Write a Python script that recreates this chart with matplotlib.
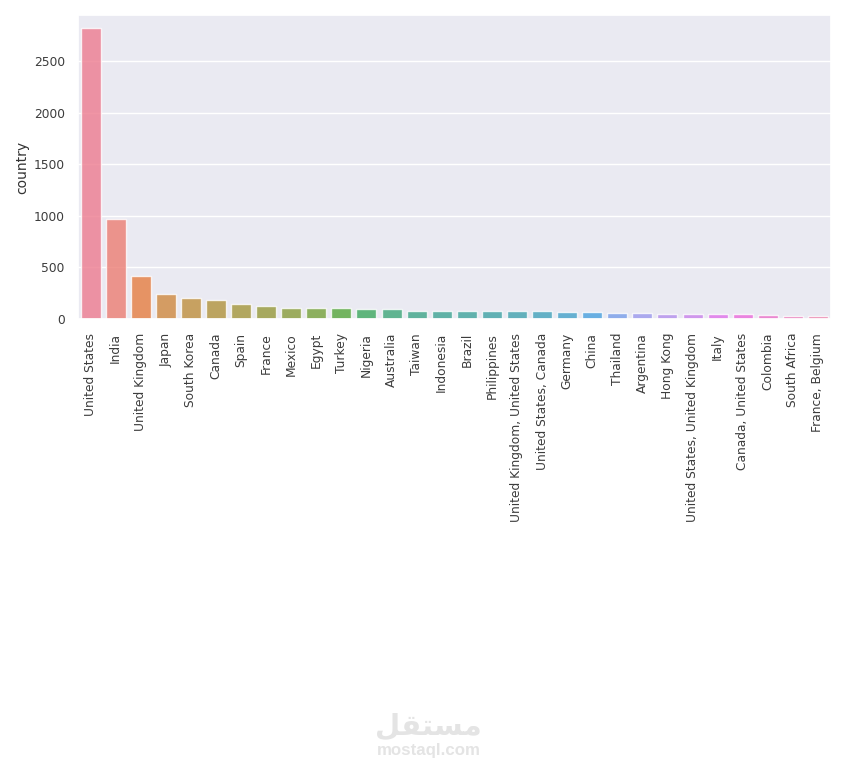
import matplotlib
matplotlib.use('Agg')
import matplotlib.pyplot as plt
import seaborn as sns

countries = ["United States", "India", "United Kingdom", "Japan", "South Korea", "Canada",
             "Spain", "France", "Mexico", "Egypt", "Turkey", "Nigeria", "Australia", "Taiwan",
             "Indonesia", "Brazil", "Philippines", "United Kingdom, United States",
             "United States, Canada", "Germany", "China", "Thailand", "Argentina", "Hong Kong",
             "United States, United Kingdom", "Italy", "Canada, United States", "Colombia",
             "South Africa", "France, Belgium"]
counts = [2818, 972, 419, 245, 199, 181, 145, 124, 110, 106, 105, 95, 94, 81, 79, 77, 75, 75,
          73, 67, 66, 57, 56, 53, 47, 46, 46, 38, 29, 27]

sns.set_theme(style='darkgrid')

fig = plt.figure(figsize=(8.57, 7.75), dpi=100)
ax = fig.add_axes([78 / 857, 1 - 319 / 775, 752.5 / 857, 304 / 775])

sns.barplot(x=countries, y=counts, hue=countries, legend=False, palette='husl', ax=ax,
            saturation=0.85, alpha=0.8)

ax.set_ylim(0, 2945)
ax.set_xlim(-0.5, 29.5)
ax.set_ylabel('country', fontsize=10, color='#333333', labelpad=3)
ax.tick_params(axis='y', labelsize=8.8, labelcolor='#3c3c3c')
ax.tick_params(axis='x', labelsize=8.8, labelcolor='#3c3c3c', labelrotation=90, pad=4)
ax.grid(axis='x', visible=False)

# watermark
fig.text(0.5, 1 - 727 / 775, '\ufede\ufed8\ufe98\ufeb4\ufee3', ha='center', va='center',
         fontsize=21, fontweight='bold', color='#e4e4e4', family='DejaVu Sans')
fig.text(0.5, 1 - 751 / 775, 'mostaql.com', ha='center', va='center',
         fontsize=12.2, fontweight='bold', color='#e4e4e4', family='Liberation Sans')

fig.savefig('out.png', dpi=100)
